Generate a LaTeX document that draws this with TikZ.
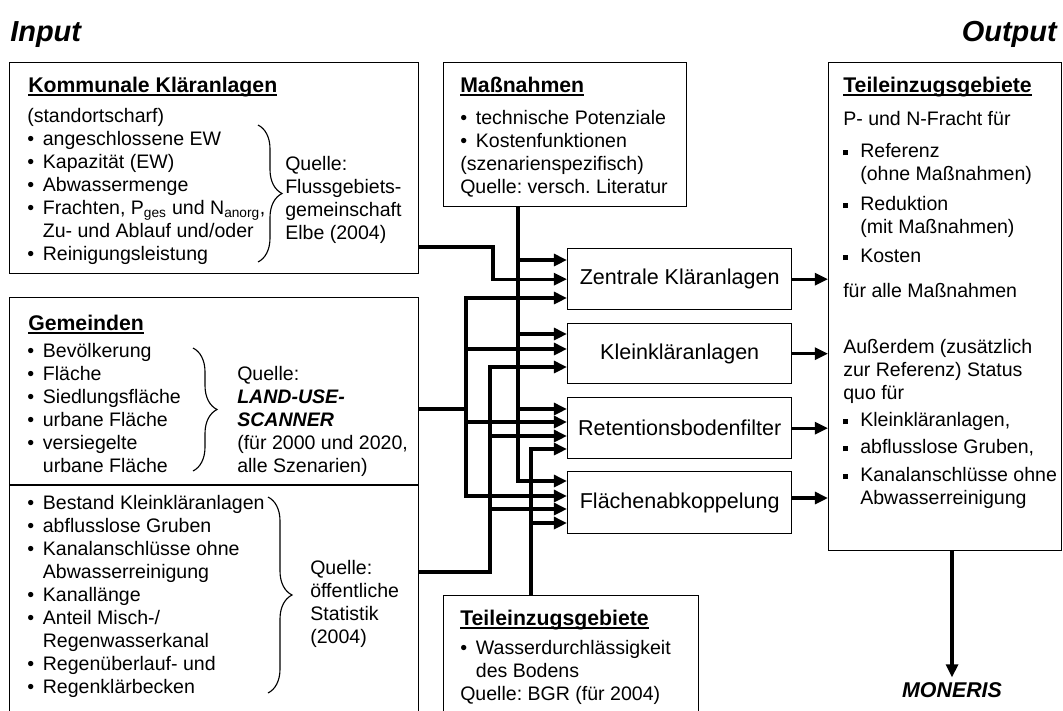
\documentclass[tikz,border=0pt]{standalone}
\usepackage{fontspec}
\setmainfont{Liberation Sans}
\usetikzlibrary{arrows.meta,calc,decorations.pathreplacing}
\frenchspacing

\newcommand{\fbody}{\fontsize{13.9}{16.3}\selectfont}
\newcommand{\fhead}{\fontsize{15.1}{18}\selectfont\bfseries}
\newcommand{\flab}{\fontsize{15.3}{18}\selectfont}
\newcommand{\fbig}{\fontsize{20.6}{24}\selectfont\bfseries\itshape}
\newcommand{\fmon}{\fontsize{15.2}{18}\selectfont\bfseries\itshape}
\newcommand{\bl}{\makebox[0.39cm][l]{\textbullet}}
\newcommand{\ind}{\hspace*{0.39cm}}
\newcommand{\sq}{\makebox[0.425cm][l]{\rule[1.8pt]{3.6pt}{3.6pt}}}
\newcommand{\inds}{\hspace*{0.425cm}}
\newcommand{\hdrule}[1]{\setbox0\hbox{#1}\rlap{\rule[-2.9pt]{\wd0}{1.3pt}}\box0}
\newcommand{\topstrut}{\rule{0pt}{12.5pt}}

\tikzset{
  >={Triangle[length=0.33cm, width=0.3cm]},
  box/.style 2 args={draw, line width=1pt, anchor=north west, inner sep=0pt,
    minimum width=#1*0.025cm, minimum height=#2*0.025cm},
  hd/.style={anchor=base west, inner sep=0pt, font=\fhead},
  txt/.style={anchor=north west, yshift=12.5pt, align=left, inner sep=0pt,
    font=\fbody, execute at begin node=\topstrut},
  conn/.style={line width=2.2pt},
  arr/.style={conn, ->},
  brc/.style={decorate, decoration={brace, amplitude=0.6cm}, line width=0.8pt}
}

\begin{document}
\begin{tikzpicture}[x=0.025cm, y=-0.025cm]
  \useasboundingbox (0,0) rectangle (1063,710);

  % Titles
  \node[font=\fbig, anchor=base west, inner sep=0pt] (inp) at (10,41) {Input};
  \node[font=\fbig, anchor=base east, inner sep=0pt] (outp) at (1057,41) {Output};

  % Boxes
  \node[box={409}{211}] (kom) at (9,62) {};
  \node[box={409}{415}] (gem) at (9,297) {};
  \node[box={243}{144}] (mas) at (443,62) {};
  \node[box={255}{117}] (tei) at (443,595) {};
  \node[box={233}{488}] (out) at (828,62) {};

  % Measures
  \node[box={224}{61}, font=\flab] (zen) at (567,248) {Zentrale Kläranlagen};
  \node[box={224}{60}, font=\flab] (kle) at (567,323) {Kleinkläranlagen};
  \node[box={224}{61}, font=\flab] (ret) at (567,397) {Retentionsbodenfilter};
  \node[box={224}{62}, font=\flab] (fla) at (567,471) {Flächenabkoppelung};

  % Kommunale Klaeranlagen
  \node[hd] (komh) at (28,92) {\hdrule{Kommunale Kläranlagen}};
  \node[txt] (komt) at (27,126) {(standortscharf)\\ \bl angeschlossene EW\\
    \bl Kapazität (EW)\\ \bl Abwassermenge\\
    \bl Frachten, P\textsubscript{ges} und N\textsubscript{anorg},\\
    \ind Zu- und Ablauf und/oder\\ \bl Reinigungsleistung};
  \node[txt] (komq) at (285,174) {Quelle:\\ Flussgebiets-\\ gemeinschaft\\ Elbe (2004)};
  \draw[brc] (258,125) -- (258,262);

  % Gemeinden
  \node[hd] (gemh) at (28,330) {\hdrule{Gemeinden}};
  \node[txt] (gemt) at (27,361) {\bl Bevölkerung\\ \bl Fläche\\ \bl Siedlungsfläche\\
    \bl urbane Fläche\\ \bl versiegelte\\ \ind urbane Fläche};
  \node[txt] (gemq) at (237,384) {Quelle:\\ \textbf{\textit{LAND-USE-}}\\
    \textbf{\textit{SCANNER}}\\ (für 2000 und 2020,\\ alle Szenarien)};
  \draw[brc] (193,348) -- (193,471);
  \draw[line width=1pt] (gem.west |- 0,485) -- (gem.east |- 0,485);

  % Statistik
  \node[txt] (stat) at (27,513) {\bl Bestand Kleinkläranlagen\\ \bl abflusslose Gruben\\
    \bl Kanalanschlüsse ohne\\ \ind Abwasserreinigung\\ \bl Kanallänge\\
    \bl Anteil Misch-/\\ \ind Regenwasserkanal\\ \bl Regenüberlauf- und\\
    \bl Regenklärbecken};
  \node[txt] (statq) at (310,578) {Quelle:\\ öffentliche\\ Statistik\\ (2004)};
  \draw[brc] (268,497) -- (268,693);

  % Massnahmen
  \node[hd] (mash) at (460,92) {\hdrule{Maßnahmen}};
  \node[txt] (mast) at (460,128) {\bl technische Potenziale\\ \bl Kostenfunktionen\\
    (szenarienspezifisch)\\ Quelle: versch. Literatur};

  % Teileinzugsgebiete (input)
  \node[hd] (teih) at (460,625) {\hdrule{Teileinzugsgebiete}};
  \node[txt] (teit) at (460,658) {\bl Wasserdurchlässigkeit\\ \ind des Bodens\\
    Quelle: BGR (für 2004)};

  % Teileinzugsgebiete (output)
  \node[hd] (outh) at (843,92) {\hdrule{Teileinzugsgebiete}};
  \node[txt] (outt) at (843,129) {P- und N-Fracht für\\[6.4pt] \sq Referenz\\
    \inds (ohne Maßnahmen)\\[5pt] \sq Reduktion\\ \inds (mit Maßnahmen)\\[4.3pt]
    \sq Kosten\\[8.5pt] für alle Maßnahmen\\[23.4pt] Außerdem (zusätzlich\\
    zur Referenz) Status\\ quo für\\[3.5pt] \sq Kleinkläranlagen,\\[2.8pt]
    \sq abflusslose Gruben,\\[3.5pt] \sq Kanalanschlüsse ohne\\ \inds Abwasserreinigung};

  \node[font=\fmon] (mon) at (952,690) {MONERIS};

  % Bus lines
  \coordinate (gbus) at (466,0);
  \coordinate (sbus) at (490,0);
  \coordinate (kbus) at (493,0);
  \coordinate (mbus) at (518,0);
  \coordinate (tbus) at (531,0);

  % Arrows
  \draw[arr] (mbus |- mas.south) |- (fla.west |- 0,481);
  \draw[arr] (mbus |- 0,260) -- (zen.west |- 0,260);
  \draw[arr] (mbus |- 0,334) -- (kle.west |- 0,334);
  \draw[arr] (mbus |- 0,409) -- (ret.west |- 0,409);

  \draw[arr] (kom.east |- 0,247) -| (kbus |- zen.west) -- (zen.west);

  \draw[conn] (gem.east |- 0,409) -- (gbus |- 0,409);
  \draw[arr] (gbus |- 0,496) |- (zen.west |- 0,298);
  \draw[arr] (gbus |- 0,298) |- (fla.west |- 0,496);
  \draw[arr] (gbus |- 0,349) -- (kle.west |- 0,349);
  \draw[arr] (gbus |- 0,422) -- (ret.west |- 0,422);

  \draw[arr] (gem.east |- 0,572) -| (sbus |- 0,367) -- (kle.west |- 0,367);
  \draw[arr] (sbus |- 0,436) -- (ret.west |- 0,436);
  \draw[arr] (sbus |- 0,509) -- (fla.west |- 0,509);

  \draw[arr] (tbus |- tei.north) |- (ret.west |- 0,449);
  \draw[arr] (tbus |- 0,523) -- (fla.west |- 0,523);

  \draw[arr] (zen) -- (out.west |- zen);
  \draw[arr] (kle) -- (out.west |- kle);
  \draw[arr] (ret) -- (out.west |- ret);
  \draw[arr] (fla.east |- 0,498) -- (out.west |- 0,498);

  \draw[arr] (mon |- out.south) -- (mon);

\end{tikzpicture}
\end{document}
